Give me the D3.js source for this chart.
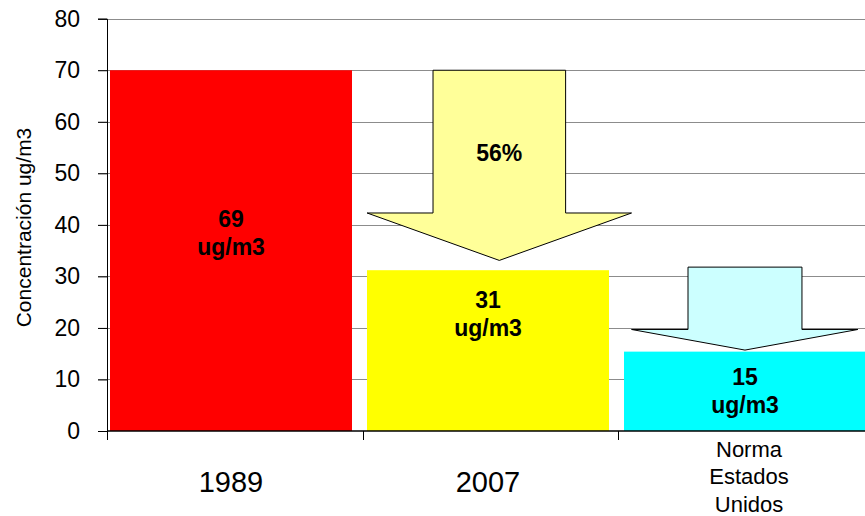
<!DOCTYPE html>
<html>
<head>
<meta charset="utf-8">
<script src="https://cdn.jsdelivr.net/npm/d3@7"></script>
<style>
  body { margin: 0; background: #fff; }
  svg { font-family: Arial, "Liberation Sans", sans-serif; }
  .grid line { stroke: #8c8c8c; stroke-width: 1; }
</style>
</head>
<body>
<svg id="chart" width="865" height="516"></svg>
<script>
// data
var categories = ["1989", "2007", "Norma Estados Unidos"];
var values = [70, 31.2, 15.4];
var valueLabels = ["69", "31", "15"];
var labelLevels = [39.6, 23.8, 8.9];   // baseline of the first label line, in ug/m3
var barColors = ["#ff0000", "#ffff00", "#00ffff"];
var yTicks = [0, 10, 20, 30, 40, 50, 60, 70, 80];

// arrows: x in category units (0..3), y in ug/m3
var arrowNames = ["reduccion", "norma"];
var arrowShaft = [[1.276, 1.795], [2.274, 2.72]];
var arrowWings = [[1.018, 2.053], [2.053, 2.939]];
var arrowTop = [70, 31.8];
var arrowShoulder = [42.3, 19.7];
var arrowTip = [33.1, 15.7];
var arrowFill = ["#ffff99", "#ccffff"];
var arrowText = ["56%", ""];
var arrowTextLevel = [52.3, 0];

var svg = d3.select("#chart");
var margin = {left: 107, top: 18.7, bottom: 85};
var plotW = 766.5, plotH = 516 - margin.top - margin.bottom;

var x = d3.scaleBand()
    .domain(categories)
    .range([102.5, 873.5])
    .paddingInner(0.0584)
    .paddingOuter(0.0292);

// continuous version for separators and annotations
var xc = d3.scaleLinear().domain([0, 3]).range([margin.left, margin.left + plotW]);

var y = d3.scaleLinear().domain([0, 80]).range([margin.top + plotH, margin.top]);

// gridlines
svg.append("g")
    .attr("class", "grid")
    .selectAll("line")
    .data(yTicks.filter(function(d) { return d > 0; }))
    .enter().append("line")
      .attr("x1", margin.left - 9)
      .attr("x2", 865)
      .attr("y1", function(d) { return Math.round(y(d)) + 0.5; })
      .attr("y2", function(d) { return Math.round(y(d)) + 0.5; });

// bars
svg.append("g")
    .selectAll("rect")
    .data(values)
    .enter().append("rect")
      .attr("x", function(d, i) { return x(categories[i]); })
      .attr("y", function(d) { return y(d); })
      .attr("width", x.bandwidth())
      .attr("height", function(d) { return y(0) - y(d); })
      .attr("fill", function(d, i) { return barColors[i]; });

// arrows
svg.append("g").selectAll("path")
    .data(arrowNames)
    .enter().append("path")
      .attr("d", function(d, i) {
        var s = arrowShaft[i], w = arrowWings[i];
        var pts = [
          [xc(s[0]), y(arrowTop[i])],
          [xc(s[1]), y(arrowTop[i])],
          [xc(s[1]), y(arrowShoulder[i])],
          [xc(w[1]), y(arrowShoulder[i])],
          [xc((s[0] + s[1]) / 2), y(arrowTip[i])],
          [xc(w[0]), y(arrowShoulder[i])],
          [xc(s[0]), y(arrowShoulder[i])]
        ];
        return d3.line()(pts) + "Z";
      })
      .attr("fill", function(d, i) { return arrowFill[i]; })
      .attr("stroke", "#000")
      .attr("stroke-width", 1);

svg.append("g").selectAll("text")
    .data(arrowText)
    .enter().append("text")
      .attr("x", function(d, i) { return xc((arrowShaft[i][0] + arrowShaft[i][1]) / 2); })
      .attr("y", function(d, i) { return y(arrowTextLevel[i]); })
      .attr("text-anchor", "middle")
      .style("font-size", "23px")
      .style("font-weight", "bold")
      .text(function(d) { return d; });

// value labels inside bars
var vl = svg.append("g").selectAll("text")
    .data(values)
    .enter().append("text")
      .attr("text-anchor", "middle")
      .style("font-size", "23px")
      .style("font-weight", "bold")
      .attr("transform", function(d, i) {
        return "translate(" + (x(categories[i]) + x.bandwidth() / 2) + "," + y(labelLevels[i]) + ")";
      });
vl.append("tspan").attr("x", 0).attr("dy", 0).text(function(d, i) { return valueLabels[i]; });
vl.append("tspan").attr("x", 0).attr("dy", 28).text("ug/m3");

// y axis
var yAxis = svg.append("g")
    .attr("transform", "translate(" + margin.left + ",0)")
    .call(d3.axisLeft(y).tickValues(yTicks).tickSize(9).tickPadding(18));
yAxis.select(".domain").attr("stroke", "#000");
yAxis.selectAll(".tick line").attr("stroke", "#000");
yAxis.selectAll(".tick text")
    .style("font-size", "23px")
    .attr("fill", "#000")
    .attr("font-family", null);

// x axis
var xAxis = svg.append("g")
    .attr("transform", "translate(0," + y(0) + ")");
xAxis.append("line")
    .attr("x1", margin.left).attr("x2", 865)
    .attr("stroke", "#000").attr("stroke-width", 1.5);
xAxis.selectAll(".sep")
    .data([0, 1, 2])
    .enter().append("line")
      .attr("x1", function(d) { return Math.round(xc(d)) + 0.5; })
      .attr("x2", function(d) { return Math.round(xc(d)) + 0.5; })
      .attr("y1", 0).attr("y2", 9)
      .attr("stroke", "#000");

xAxis.selectAll(".lbl")
    .data(categories.slice(0, 2))
    .enter().append("text")
      .attr("x", function(d) { return x(d) + x.bandwidth() / 2; })
      .attr("y", 61)
      .attr("text-anchor", "middle")
      .style("font-size", "29px")
      .text(function(d) { return d; });

var norma = xAxis.append("text")
    .attr("text-anchor", "middle")
    .style("font-size", "22px")
    .attr("transform", "translate(" + (x(categories[2]) + x.bandwidth() / 2 + 4) + ",25.7)");
categories[2].split(" ").forEach(function(w, i) {
  norma.append("tspan").attr("x", 0).attr("dy", i === 0 ? 0 : 27.5).text(w);
});

// axis title
svg.append("text")
    .attr("transform", "translate(31,227.5) rotate(-90)")
    .attr("text-anchor", "middle")
    .style("font-size", "21px")
    .text("Concentración ug/m3");
</script>
</body>
</html>
